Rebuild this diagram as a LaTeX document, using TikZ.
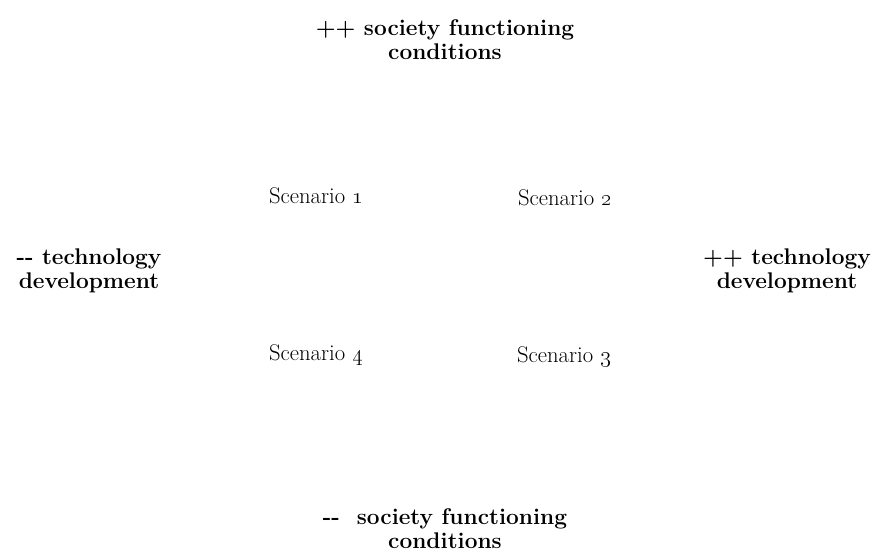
\documentclass[tikz,border=0pt]{standalone}
\begin{document}
\begin{tikzpicture}[x=0.75pt,y=-0.75pt,
    axislabel/.style={font=\fontsize{17}{18}\selectfont\bfseries,align=center},
    scen/.style={font=\fontsize{17}{18}\selectfont}]
    \useasboundingbox (0,0) rectangle (883,552);
    % axis ends
    \node[axislabel] (societyhi) at (445,40) {++ society functioning\\conditions};
    \node[axislabel] (societylo) at (445,529) {{-}{-}~~society functioning\\conditions};
    \node[axislabel] (techlo) at (89,271) {{-}{-} technology\\development};
    \node[axislabel] (techhi) at (787,271) {++ technology\\development};
    % quadrants
    \node[scen] (sc1) at (316,196) {Scenario \oldstylenums{1}};
    \node[scen] (sc2) at (565,198) {Scenario \oldstylenums{2}};
    \node[scen] (sc4) at (316,355) {Scenario \oldstylenums{4}};
    \node[scen] (sc3) at (564,357) {Scenario \oldstylenums{3}};
\end{tikzpicture}
\end{document}
